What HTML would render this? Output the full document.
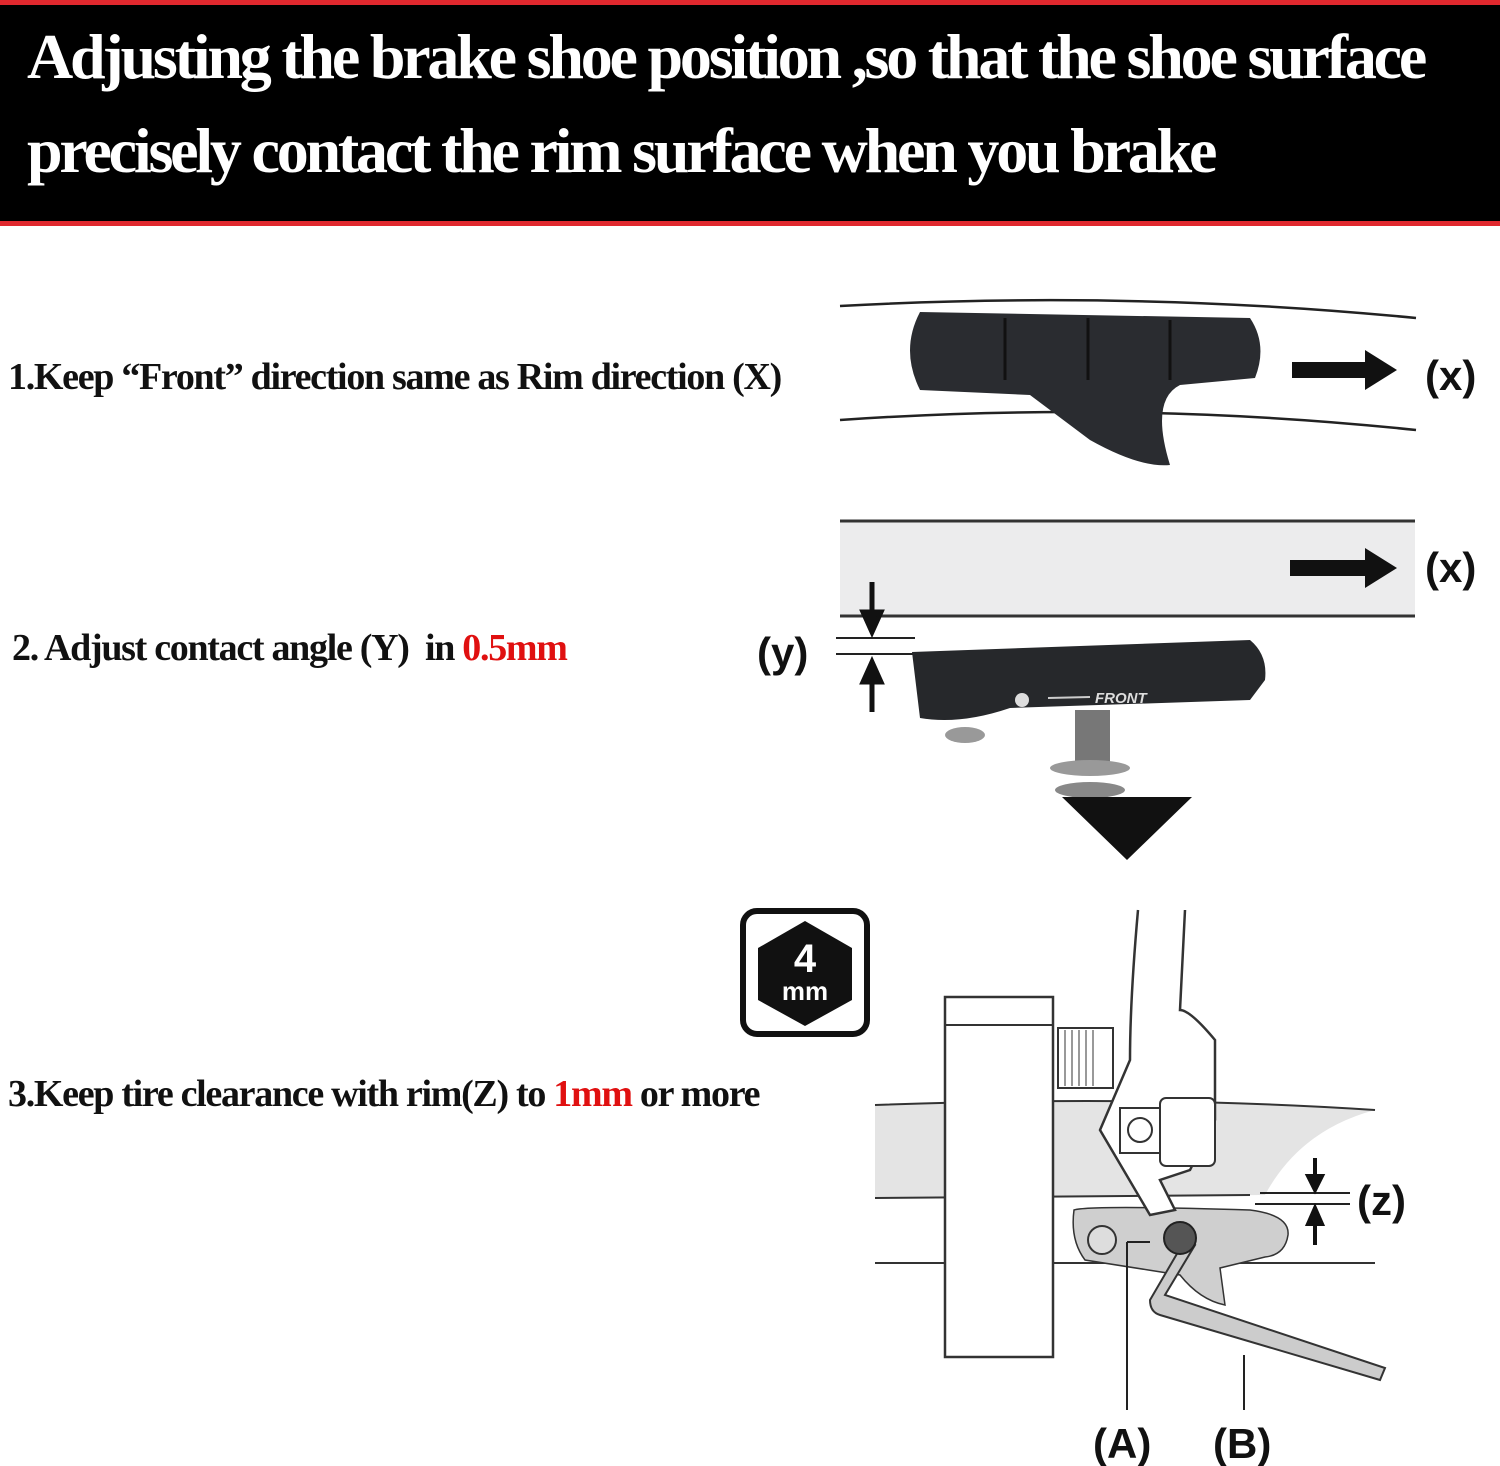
<!DOCTYPE html>
<html><head><meta charset="utf-8"><style>
html,body{margin:0;padding:0;background:#fff;}
body{width:1500px;height:1466px;position:relative;overflow:hidden;font-family:"Liberation Serif",serif;}
.hdr{position:absolute;left:0;top:0;width:1500px;height:226px;background:#000;border-top:5px solid #e0282e;border-bottom:5px solid #e0282e;box-sizing:border-box;}
.h{position:absolute;left:27px;color:#fff;font-weight:bold;font-size:64px;letter-spacing:-3.2px;white-space:nowrap;}
.t{position:absolute;color:#111;font-weight:bold;font-size:38px;letter-spacing:-1.3px;white-space:nowrap;}
.r{color:#e01010}
svg{position:absolute;left:0;top:0}
</style></head><body>
<div class="hdr"></div>
<div class="h" style="top:20px">Adjusting the brake shoe position ,so that the shoe surface</div>
<div class="h" style="top:114px">precisely contact the rim surface when you brake</div>
<div class="t" style="left:8px;top:355px">1.Keep “Front” direction same as Rim direction (X)</div>
<div class="t" style="left:12px;top:626px">2. Adjust contact angle (Y)&nbsp; in <span class="r">0.5mm</span></div>
<div class="t" style="left:8px;top:1072px">3.Keep tire clearance with rim(Z) to <span class="r">1mm</span> or more</div>
<svg width="1500" height="1466" viewBox="0 0 1500 1466" font-family="Liberation Sans, sans-serif" font-weight="bold">
<path d="M840 306 Q1130 290 1416 318" stroke="#222" stroke-width="2.5" fill="none"/>
<path d="M840 420 Q1130 400 1416 430" stroke="#222" stroke-width="2.5" fill="none"/>
<path d="M920 312 L1250 318 Q1268 345 1255 378 L1180 385 Q1150 400 1170 465 Q1140 468 1090 440 L1030 395 L920 390 Q900 350 920 312Z" fill="#2a2c30"/>
<g stroke="#111" stroke-width="3"><line x1="1005" y1="318" x2="1005" y2="380"/><line x1="1088" y1="318" x2="1088" y2="380"/><line x1="1170" y1="320" x2="1170" y2="380"/></g>
<polygon points="1292,362 1365,362 1365,350 1397,370 1365,390 1365,378 1292,378" fill="#111"/>
<text x="1425" y="390" font-size="42" fill="#111">(x)</text>
<rect x="840" y="520" width="575" height="96" fill="#ececed"/>
<line x1="840" y1="521" x2="1415" y2="521" stroke="#333" stroke-width="3"/>
<line x1="840" y1="616" x2="1415" y2="616" stroke="#333" stroke-width="3"/>
<polygon points="1290,560 1365,560 1365,548 1397,568 1365,588 1365,576 1290,576" fill="#111"/>
<text x="1425" y="582" font-size="42" fill="#111">(x)</text>
<text x="757" y="667" font-size="42" fill="#111">(y)</text>
<line x1="836" y1="638" x2="915" y2="638" stroke="#222" stroke-width="2"/>
<line x1="836" y1="654" x2="915" y2="654" stroke="#222" stroke-width="2"/>
<path d="M872 582 V615 M863 612 L872 632 L881 612Z" stroke="#111" stroke-width="5" fill="#111"/>
<path d="M872 712 V680 M863 682 L872 662 L881 682Z" stroke="#111" stroke-width="5" fill="#111"/>
<path d="M912 652 L1250 640 Q1268 655 1265 680 L1250 700 L1010 708 Q960 725 920 718 Z" fill="#26282b"/>
<text x="1095" y="703" font-size="15" fill="#ddd" font-style="italic">FRONT</text>
<line x1="1048" y1="698" x2="1090" y2="697" stroke="#ccc" stroke-width="2"/>
<circle cx="1022" cy="700" r="7" fill="#ddd"/>
<rect x="1075" y="710" width="35" height="60" fill="#777"/>
<ellipse cx="1090" cy="768" rx="40" ry="8" fill="#999"/>
<ellipse cx="1090" cy="790" rx="35" ry="8" fill="#888"/>
<ellipse cx="965" cy="735" rx="20" ry="8" fill="#999"/>
<polygon points="1062,797 1192,797 1127,860" fill="#111"/>
<rect x="743" y="911" width="124" height="123" rx="14" fill="#fff" stroke="#111" stroke-width="6"/>
<polygon points="805,921 852,948 852,1000 805,1026 758,1000 758,948" fill="#111"/>
<text x="805" y="972" font-size="40" fill="#fff" text-anchor="middle">4</text>
<text x="805" y="1000" font-size="26" fill="#fff" text-anchor="middle">mm</text>
<path d="M875 1105 Q1150 1095 1375 1110 Q1300 1130 1265 1195 L875 1198Z" fill="#e4e4e4"/>
<path d="M875 1105 Q1150 1095 1375 1110" stroke="#333" stroke-width="2" fill="none"/>
<line x1="875" y1="1198" x2="1250" y2="1195" stroke="#333" stroke-width="2"/>
<line x1="875" y1="1263" x2="1375" y2="1263" stroke="#333" stroke-width="2"/>
<rect x="945" y="997" width="108" height="360" fill="#fff" stroke="#333" stroke-width="2.5"/>
<line x1="945" y1="1025" x2="1053" y2="1025" stroke="#333" stroke-width="2"/>
<rect x="1058" y="1028" width="55" height="60" fill="#fff" stroke="#333" stroke-width="2"/>
<g stroke="#333" stroke-width="1"><line x1="1065" y1="1030" x2="1065" y2="1086"/><line x1="1072" y1="1030" x2="1072" y2="1086"/><line x1="1079" y1="1030" x2="1079" y2="1086"/><line x1="1086" y1="1030" x2="1086" y2="1086"/><line x1="1093" y1="1030" x2="1093" y2="1086"/></g>
<path d="M1074 1210 Q1090 1205 1250 1210 Q1290 1215 1288 1235 Q1285 1255 1265 1257 L1220 1268 L1225 1305 Q1200 1300 1180 1275 L1085 1260 Q1070 1240 1074 1210Z" fill="#cfcfcf" stroke="#333" stroke-width="1.5"/>
<circle cx="1102" cy="1240" r="14" fill="#ddd" stroke="#333" stroke-width="2"/>
<path d="M1138 910 Q1130 1000 1130 1060 L1100 1130 L1150 1215 L1175 1210 L1160 1180 L1190 1170 L1215 1120 L1215 1040 Q1190 1010 1180 1010 L1185 910" fill="#fff" stroke="#333" stroke-width="2.5"/>
<rect x="1120" y="1108" width="40" height="45" fill="#fff" stroke="#333" stroke-width="2"/>
<circle cx="1140" cy="1130" r="12" fill="#fff" stroke="#333" stroke-width="2"/>
<rect x="1160" y="1098" width="55" height="68" rx="6" fill="#fff" stroke="#333" stroke-width="2"/>
<path d="M1185 1240 L1150 1300 Q1150 1312 1160 1315 L1380 1380 L1385 1368 L1165 1295 L1195 1245Z" fill="#ccc" stroke="#333" stroke-width="2"/>
<circle cx="1180" cy="1238" r="16" fill="#555" stroke="#222" stroke-width="2"/>
<line x1="1127" y1="1242" x2="1127" y2="1410" stroke="#222" stroke-width="2"/>
<line x1="1127" y1="1242" x2="1150" y2="1242" stroke="#222" stroke-width="2"/>
<line x1="1244" y1="1355" x2="1244" y2="1410" stroke="#222" stroke-width="2"/>
<text x="1093" y="1458" font-size="42" fill="#111">(A)</text>
<text x="1213" y="1458" font-size="42" fill="#111">(B)</text>
<line x1="1260" y1="1193" x2="1350" y2="1193" stroke="#222" stroke-width="2"/>
<line x1="1255" y1="1204" x2="1350" y2="1204" stroke="#222" stroke-width="2"/>
<path d="M1315 1158 V1180 M1308 1176 L1315 1190 L1322 1176Z" stroke="#111" stroke-width="4" fill="#111"/>
<path d="M1315 1245 V1222 M1308 1224 L1315 1208 L1322 1224Z" stroke="#111" stroke-width="4" fill="#111"/>
<text x="1357" y="1215" font-size="42" fill="#111">(z)</text>
</svg>
</body></html>
